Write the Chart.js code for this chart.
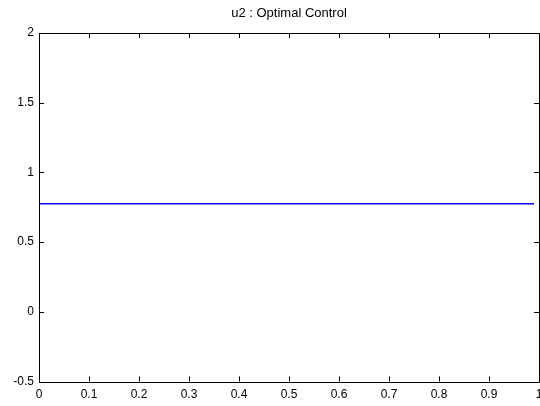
<!DOCTYPE html>
<html>
<head>
<meta charset="utf-8">
<script src="https://cdn.jsdelivr.net/npm/chart.js@4/dist/chart.umd.min.js"></script>
<style>
  html, body { margin: 0; padding: 0; background: #fff; overflow: hidden; }
  #wrap { position: relative; width: 560px; height: 406px; }
</style>
</head>
<body>
<div id="wrap"><canvas id="c" width="560" height="406"></canvas></div>
<script>
const titleText = 'u2 : Optimal Control';
const timeValues = [0, 0.99];
const u2Values = [0.775, 0.775];
const xTickValues = [0, 0.1, 0.2, 0.3, 0.4, 0.5, 0.6, 0.7, 0.8, 0.9, 1];
const xTickLabels = ['0', '0.1', '0.2', '0.3', '0.4', '0.5', '0.6', '0.7', '0.8', '0.9', '1'];
const yTickValues = [-0.5, 0, 0.5, 1, 1.5, 2];
const yTickLabels = ['-0.5', '0', '0.5', '1', '1.5', '2'];

const FONT = 'Liberation Sans, Arial, Helvetica, sans-serif';

const boxTicks = {
  id: 'boxTicks',
  afterDraw(chart) {
    const { ctx, chartArea: a, scales } = chart;
    const L = 5;
    ctx.save();
    ctx.strokeStyle = '#000';
    ctx.lineWidth = 1;
    ctx.beginPath();
    ctx.rect(Math.round(a.left) + 0.5, Math.round(a.top) + 0.5,
             Math.round(a.right) - Math.round(a.left), Math.round(a.bottom) - Math.round(a.top));
    scales.x.ticks.forEach(t => {
      const x = Math.round(scales.x.getPixelForValue(t.value)) + 0.5;
      ctx.moveTo(x, a.bottom); ctx.lineTo(x, a.bottom - L);
      ctx.moveTo(x, a.top); ctx.lineTo(x, a.top + L);
    });
    scales.y.ticks.forEach(t => {
      const y = Math.round(scales.y.getPixelForValue(t.value)) + 0.5;
      ctx.moveTo(a.left, y); ctx.lineTo(a.left + L, y);
      ctx.moveTo(a.right, y); ctx.lineTo(a.right - L, y);
    });
    ctx.stroke();
    // title centred over the axes box
    ctx.fillStyle = '#000';
    ctx.font = '13px ' + FONT;
    ctx.textAlign = 'center';
    ctx.textBaseline = 'middle';
    ctx.fillText(titleText, (a.left + a.right) / 2, 13);
    ctx.restore();
  }
};

new Chart(document.getElementById('c'), {
  type: 'line',
  data: {
    datasets: [{
      label: 'u2',
      data: timeValues.map((t, i) => ({ x: t, y: u2Values[i] })),
      borderColor: 'rgb(0, 0, 255)',
      backgroundColor: 'rgb(0, 0, 255)',
      borderWidth: 1.6,
      pointRadius: 0,
      tension: 0,
      fill: false
    }]
  },
  options: {
    responsive: false,
    animation: false,
    layout: { padding: { left: 0, right: 21, top: 33, bottom: 0 } },
    plugins: {
      legend: { display: false },
      tooltip: { enabled: false },
      title: { display: false }
    },
    scales: {
      x: {
        type: 'linear',
        min: 0, max: 1,
        afterBuildTicks: s => { s.ticks = xTickValues.map(v => ({ value: v })); },
        afterFit: s => { s.height = 24.5; },
        grid: { display: false, drawTicks: false },
        border: { display: false },
        ticks: {
          color: '#000',
          font: { family: FONT, size: 12 },
          padding: 6,
          maxRotation: 0,
          autoSkip: false,
          callback: (v, i) => xTickLabels[i]
        }
      },
      y: {
        type: 'linear',
        min: -0.5, max: 2,
        afterBuildTicks: s => { s.ticks = yTickValues.map(v => ({ value: v })); },
        afterFit: s => { s.width = 39; },
        grid: { display: false, drawTicks: false },
        border: { display: false },
        ticks: {
          color: '#000',
          font: { family: FONT, size: 12 },
          padding: 5,
          autoSkip: false,
          callback: (v, i) => yTickLabels[i]
        }
      }
    }
  },
  plugins: [boxTicks]
});
</script>
</body>
</html>
